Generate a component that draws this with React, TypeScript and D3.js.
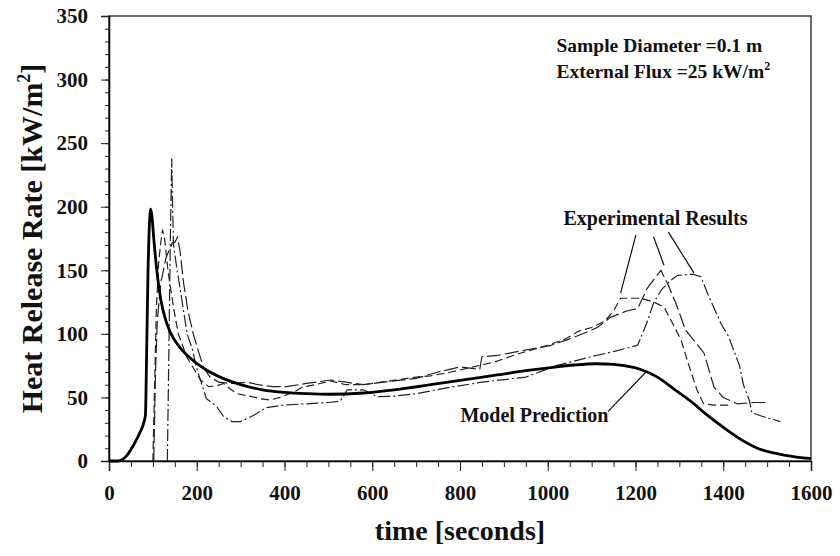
import React from "react";
import * as d3 from "d3";

// time [s], heat release rate [kW/m2]
const modelPrediction: [number, number][] = [
  [0, 0], [20, 0], [30, 1], [40, 4], [50, 9], [60, 15], [70, 22], [80, 31], [83, 36],
  [86, 90], [89, 150], [92, 185], [95, 198], [98, 192], [102, 175], [109, 150],
  [118, 127], [130, 110], [140, 101], [160, 90], [185, 81], [220, 72], [260, 65],
  [300, 60], [350, 56], [400, 54], [450, 53], [500, 52.5], [580, 53.5], [650, 56],
  [733, 60], [800, 63.5], [885, 67.7], [950, 71], [1007, 73.5], [1060, 75.5],
  [1110, 76.5], [1150, 76], [1190, 74], [1212, 72], [1250, 66], [1290, 56], [1326, 47],
  [1360, 37], [1402, 26], [1440, 17], [1478, 10], [1520, 6], [1560, 3.5], [1600, 2],
];

const testDashed: [number, number][] = [
  [100, 0], [104, 60], [108, 120], [113, 155], [118, 172], [122, 182], [127, 174],
  [135, 148], [147, 121], [158, 100], [177, 82], [208, 64], [227, 58.5], [245, 59],
  [261, 61], [275, 57], [291, 53], [320, 51], [345, 49], [367, 48], [390, 50], [420, 54],
  [440, 58], [470, 60], [505, 63], [540, 60], [580, 60], [620, 62], [660, 64], [700, 66],
  [733, 67], [780, 70], [830, 74], [880, 78], [930, 84], [1000, 91], [1040, 96],
  [1070, 102], [1100, 105], [1130, 110], [1150, 118], [1166, 128], [1190, 128],
  [1212, 128], [1242, 125], [1265, 121], [1285, 108], [1304, 95], [1320, 77], [1340, 56],
  [1355, 45], [1380, 44], [1420, 44],
];

const testLongDash: [number, number][] = [
  [102, 0], [106, 70], [110, 110], [118, 140], [130, 160], [140, 168], [145, 172],
  [150, 172], [156, 176], [162, 165], [170, 140], [180, 118], [192, 100], [205, 85],
  [215, 74], [230, 66], [250, 62], [276, 61], [314, 62], [340, 60], [374, 58.5],
  [405, 58.5], [450, 61], [505, 63.7], [540, 62], [580, 60], [650, 63], [700, 65],
  [750, 70], [800, 74], [845, 72], [850, 82], [885, 83], [930, 86], [1007, 91],
  [1050, 96], [1100, 103], [1113, 105], [1143, 113], [1180, 118], [1205, 120],
  [1227, 136], [1258, 150], [1275, 138], [1292, 124], [1314, 103], [1340, 92],
  [1356, 85], [1379, 58], [1400, 50], [1432, 45], [1470, 46], [1500, 46],
];

const testDashDot: [number, number][] = [
  [133, 0], [137, 100], [140, 180], [143, 238], [145, 200], [147, 170], [154, 153],
  [166, 127], [178, 100], [190, 88], [198, 75], [210, 62], [222, 49], [245, 43],
  [261, 35], [280, 31], [300, 31], [330, 36], [358, 42], [400, 44], [450, 45],
  [500, 46], [527, 47], [543, 56], [580, 56], [611, 50.6], [650, 51], [702, 53],
  [778, 58], [850, 62], [950, 66], [1020, 75], [1098, 82], [1150, 86], [1205, 91],
  [1225, 108], [1242, 125], [1260, 135], [1280, 142], [1296, 146], [1330, 147],
  [1349, 145], [1364, 132], [1395, 108], [1412, 98], [1437, 75], [1446, 60],
  [1460, 47], [1465, 38], [1490, 35], [1530, 31],
];

const xTicks = [0, 200, 400, 600, 800, 1000, 1200, 1400, 1600];
const yTicks = [0, 50, 100, 150, 200, 250, 300, 350];

// annotation anchors in data units
const modelLabel = { t: 801, v: 30.7, text: "Model Prediction" };
const modelLeader: [number, number][] = [[1137, 38.8], [1224, 70]];
const expLabel = { t: 1036, v: 186, text: "Experimental Results" };
const expLeaders: [number, number][][] = [
  [[1201, 177.8], [1166, 132]],
  [[1241, 176.4], [1265, 154]],
  [[1275, 180], [1333, 148]],
];
const infoLabel = { t: 1020, v: 322 };

const W = 840;
const H = 556;
const margin = { left: 109, right: 29, top: 16, bottom: 95 };
const font = "'Liberation Serif', 'Times New Roman', serif";

export default function App() {
  const ref = React.useRef<SVGSVGElement>(null);

  React.useEffect(() => {
    const svg = d3.select(ref.current);
    svg.selectAll("*").remove();

    const x = d3.scaleLinear().domain([0, 1600]).range([margin.left, W - margin.right]);
    const y = d3.scaleLinear().domain([0, 350]).range([H - margin.bottom, margin.top]);

    // frame
    svg.append("rect")
      .attr("x", x(0)).attr("y", y(350))
      .attr("width", x(1600) - x(0)).attr("height", y(0) - y(350))
      .attr("fill", "none").attr("stroke", "#222").attr("stroke-width", 1.3);

    // x axis
    const xMinor = d3.axisBottom(x).tickValues(d3.range(0, 1601, 50)).tickSize(6).tickFormat(() => "");
    const gxm = svg.append("g").attr("transform", `translate(0,${y(0)})`).call(xMinor);
    gxm.select(".domain").remove();
    const xAxis = d3.axisBottom(x).tickValues(xTicks).tickSize(10).tickPadding(14)
      .tickFormat(d3.format("d"));
    const gx = svg.append("g").attr("transform", `translate(0,${y(0)})`).call(xAxis);
    gx.select(".domain").attr("stroke-width", 1.5);
    gx.selectAll("text")
      .attr("font-family", font).attr("font-weight", "bold").attr("font-size", 21).attr("fill", "#111");

    // y axis
    const yMinor = d3.axisLeft(y).tickValues(d3.range(0, 351, 10)).tickSize(4).tickFormat(() => "");
    const gym = svg.append("g").attr("transform", `translate(${x(0)},0)`).call(yMinor);
    gym.select(".domain").remove();
    const yAxis = d3.axisLeft(y).tickValues(yTicks).tickSize(8).tickPadding(13);
    const gy = svg.append("g").attr("transform", `translate(${x(0)},0)`).call(yAxis);
    gy.select(".domain").attr("stroke-width", 1.5);
    gy.selectAll("text")
      .attr("font-family", font).attr("font-weight", "bold").attr("font-size", 21).attr("fill", "#111");
    svg.selectAll(".tick line").attr("stroke", "#222");

    // curves
    const line = d3.line<[number, number]>().x((d) => x(d[0])).y((d) => y(d[1]));
    const series = [
      { data: testDashed, dash: "8,4" },
      { data: testLongDash, dash: "14,4" },
      { data: testDashDot, dash: "12,3,2,3" },
    ];
    svg.selectAll(".exp")
      .data(series)
      .enter()
      .append("path")
      .attr("fill", "none")
      .attr("stroke", "#222")
      .attr("stroke-width", 1.2)
      .attr("stroke-dasharray", (d) => d.dash)
      .attr("d", (d) => line(d.data));

    const smooth = d3.line<[number, number]>()
      .x((d) => x(d[0])).y((d) => y(d[1]))
      .curve(d3.curveMonotoneX);
    svg.append("path")
      .attr("fill", "none")
      .attr("stroke", "#000")
      .attr("stroke-width", 2.8)
      .attr("stroke-linejoin", "round")
      .attr("d", smooth(modelPrediction));

    // annotations
    const lbl = (t: number, v: number, size: number) =>
      svg.append("text")
        .attr("x", x(t)).attr("y", y(v))
        .attr("font-family", font).attr("font-weight", "bold").attr("font-size", size)
        .attr("fill", "#111");

    lbl(modelLabel.t, modelLabel.v, 20).text(modelLabel.text);
    lbl(expLabel.t, expLabel.v, 20).text(expLabel.text);
    svg.append("path").attr("d", line(modelLeader)).attr("stroke", "#111").attr("stroke-width", 1.2);
    expLeaders.forEach((l) =>
      svg.append("path").attr("d", line(l)).attr("stroke", "#111").attr("stroke-width", 1.2)
    );

    lbl(infoLabel.t, infoLabel.v, 19.5).text("Sample Diameter =0.1 m");
    const info2 = lbl(infoLabel.t, infoLabel.v, 19.5).attr("dy", 26);
    info2.append("tspan").text("External Flux =25 kW/m");
    info2.append("tspan").attr("dy", -8).attr("font-size", 12).text("2");

    // axis titles
    svg.append("text")
      .attr("x", (x(0) + x(1600)) / 2).attr("y", 540)
      .attr("text-anchor", "middle")
      .attr("font-family", font).attr("font-weight", "bold").attr("font-size", 28)
      .attr("fill", "#111")
      .text("time [seconds]");

    const yt = svg.append("text")
      .attr("transform", `translate(42,${(y(0) + y(350)) / 2}) rotate(-90)`)
      .attr("text-anchor", "middle")
      .attr("font-family", font).attr("font-weight", "bold").attr("font-size", 30)
      .attr("fill", "#111");
    yt.append("tspan").text("Heat Release Rate [kW/m");
    yt.append("tspan").attr("dy", -12).attr("font-size", 18).text("2");
    yt.append("tspan").attr("dy", 12).text("]");
  }, []);

  return (
    <svg
      ref={ref}
      width={W}
      height={H}
      style={{ position: "absolute", left: 0, top: 0, background: "#fff" }}
    />
  );
}
